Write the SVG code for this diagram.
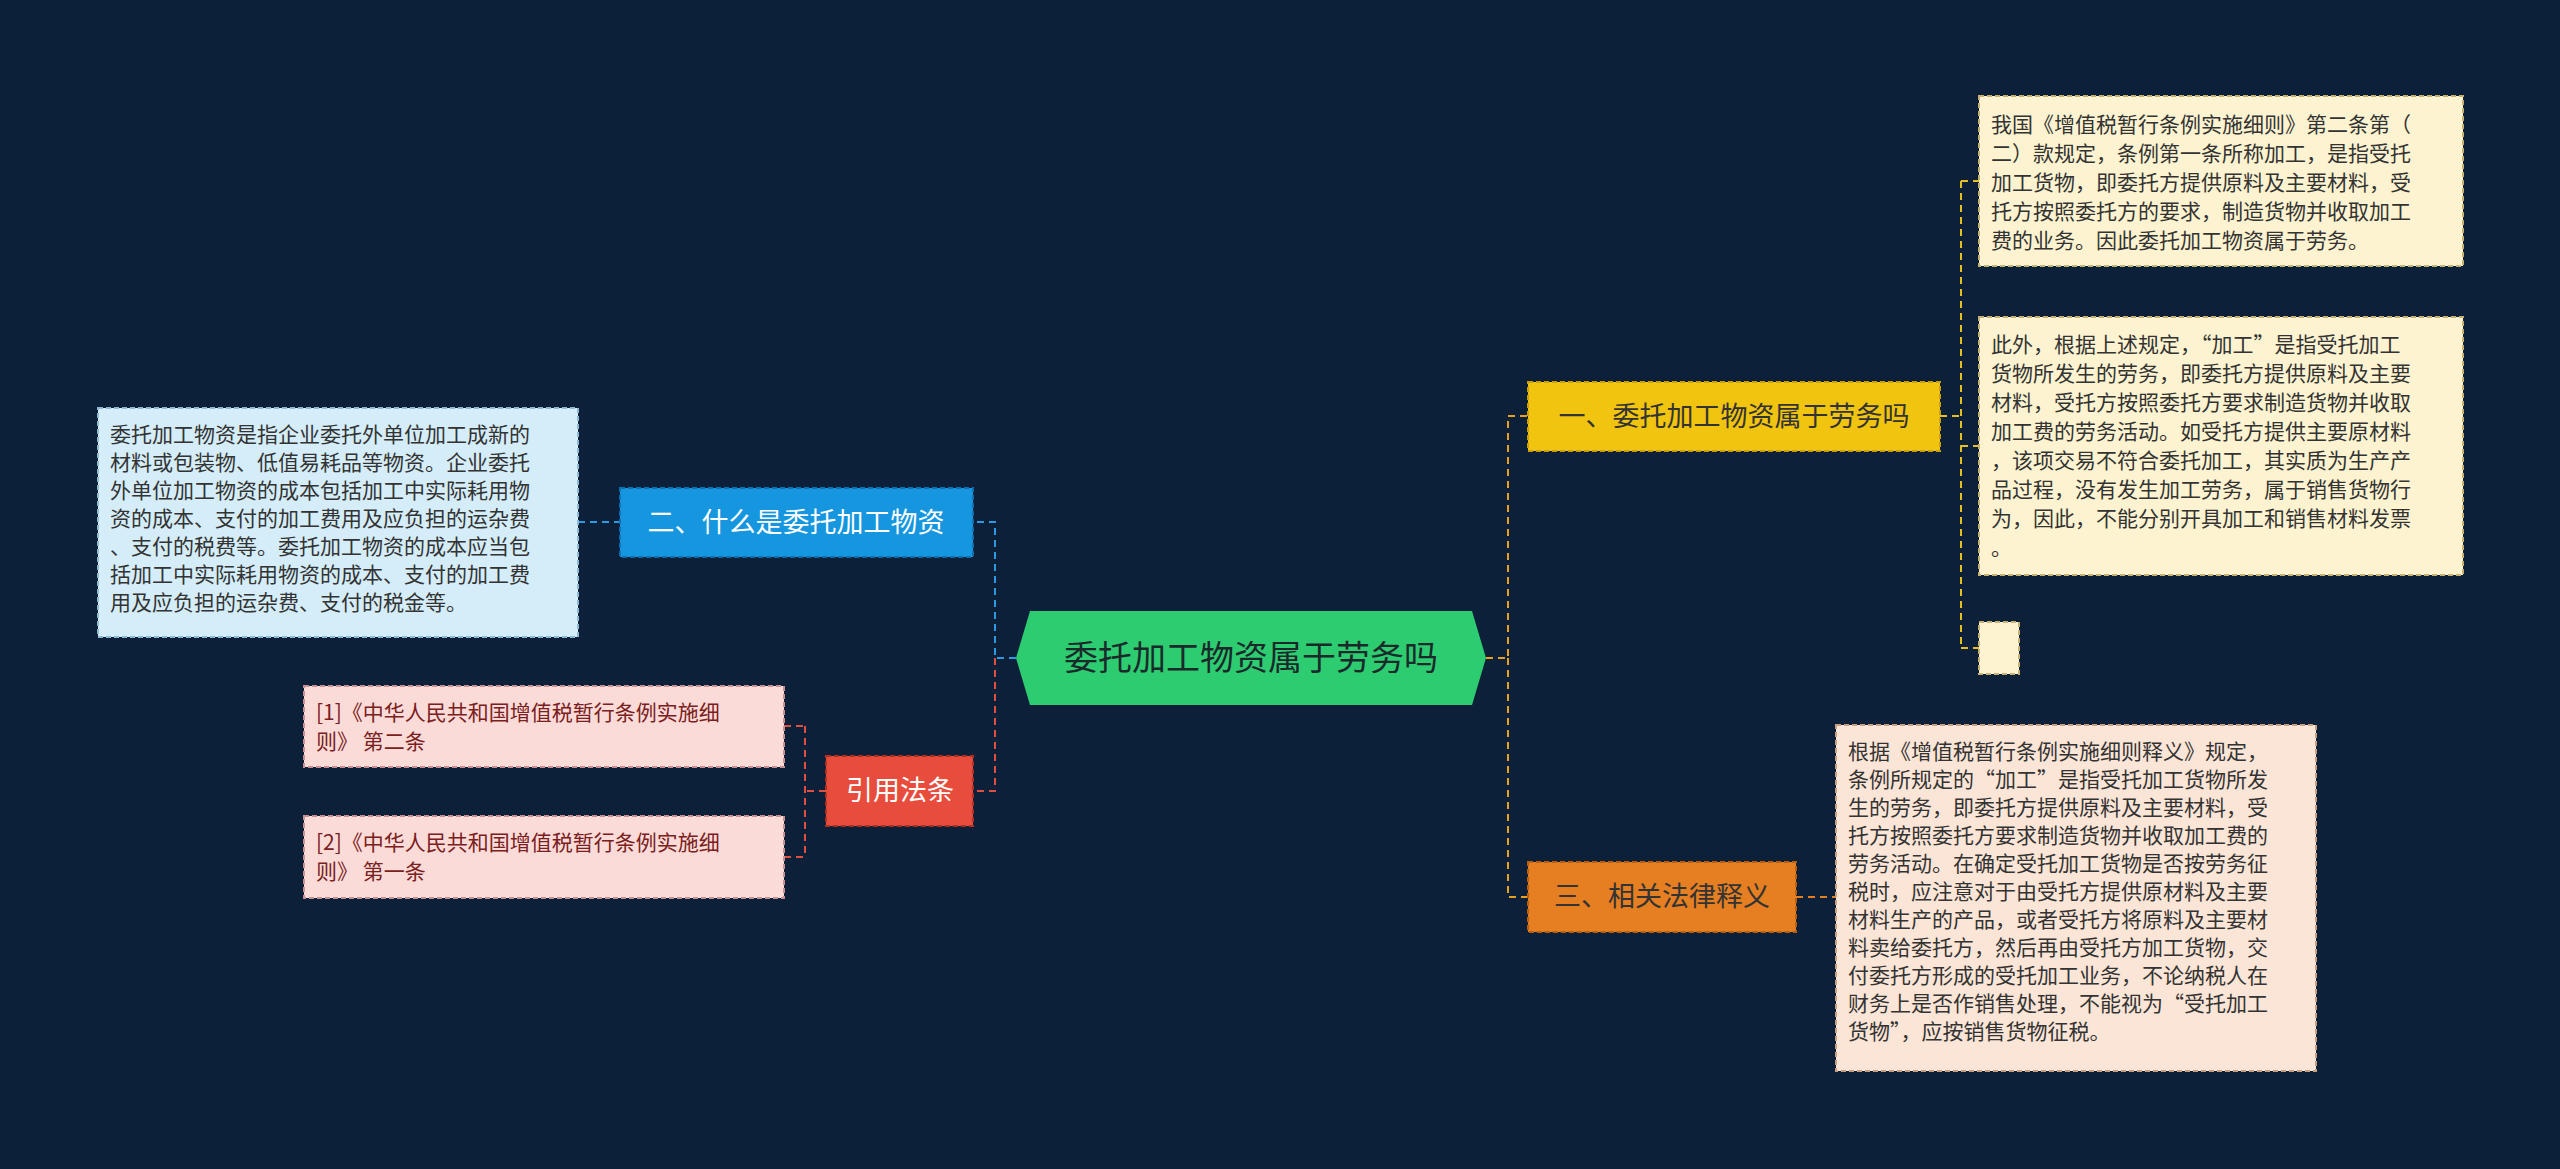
<svg xmlns="http://www.w3.org/2000/svg" width="2560" height="1169" viewBox="0 0 2560 1169">
<style>
text{font-family:"Noto Sans CJK SC","Liberation Sans",sans-serif}
.leaf{font-size:21px}
.c{fill:none;stroke-width:2;stroke-dasharray:7 5}
.b{stroke-width:2;stroke-dasharray:5 3}
</style>
<rect width="2560" height="1169" fill="#0c2039"/>
<g id="connectors">
<path class="c" stroke="#e8a020" d="M1486 658H1508V416H1528M1508 658V897H1528"/>
<path class="c" stroke="#e6c020" d="M1940 416H1961M1961 181V648M1961 181H1979M1961 446H1979M1961 648H1979"/>
<path class="c" stroke="#e67e22" d="M1796 897H1836"/>
<path class="c" stroke="#2a9be0" d="M1016 658H995V522H973M578 522H620"/>
<path class="c" stroke="#e05040" d="M995 658V791H973M826 791H805M805 726V857M784 726H805M784 857H805"/>
</g>
<g id="center">
<polygon points="1030,611 1472,611 1486,658 1472,705 1030,705 1016,658" fill="#2ecc71"/>
<text x="1251" y="670" font-size="34" text-anchor="middle" fill="#1a2a2a">委托加工物资属于劳务吗</text>
</g>
<g id="b1">
<rect class="b" x="1528" y="382" width="412" height="69" fill="#f1c40f" stroke="#c9a00a"/>
<text x="1734" y="426" font-size="27" text-anchor="middle" fill="#333">一、委托加工物资属于劳务吗</text>
</g>
<g id="l1">
<rect class="b" x="1979" y="96" width="484" height="170" fill="#fdf3d0" stroke="#c8b070"/>
<text class="leaf" fill="#333"><tspan x="1991" y="132">我国《增值税暂行条例实施细则》第二条第（</tspan><tspan x="1991" y="161">二）款规定，条例第一条所称加工，是指受托</tspan><tspan x="1991" y="190">加工货物，即委托方提供原料及主要材料，受</tspan><tspan x="1991" y="219">托方按照委托方的要求，制造货物并收取加工</tspan><tspan x="1991" y="248">费的业务。因此委托加工物资属于劳务。</tspan></text>
</g>
<g id="l2">
<rect class="b" x="1979" y="317" width="484" height="258" fill="#fdf3d0" stroke="#c8b070"/>
<text class="leaf" fill="#333"><tspan x="1991" y="352">此外，根据上述规定，“加工”是指受托加工</tspan><tspan x="1991" y="381">货物所发生的劳务，即委托方提供原料及主要</tspan><tspan x="1991" y="410">材料，受托方按照委托方要求制造货物并收取</tspan><tspan x="1991" y="439">加工费的劳务活动。如受托方提供主要原材料</tspan><tspan x="1991" y="468">，该项交易不符合委托加工，其实质为生产产</tspan><tspan x="1991" y="497">品过程，没有发生加工劳务，属于销售货物行</tspan><tspan x="1991" y="526">为，因此，不能分别开具加工和销售材料发票</tspan><tspan x="1991" y="555">。</tspan></text>
</g>
<g id="l3">
<rect class="b" x="1979" y="622" width="40" height="52" fill="#fdf3d0" stroke="#c8b070"/>
</g>
<g id="b3">
<rect class="b" x="1528" y="862" width="268" height="70" fill="#e67e22" stroke="#b85f10"/>
<text x="1662" y="906" font-size="27" text-anchor="middle" fill="#333">三、相关法律释义</text>
</g>
<g id="l4">
<rect class="b" x="1836" y="725" width="480" height="346" fill="#fbe5d6" stroke="#c8a080"/>
<text class="leaf" fill="#333"><tspan x="1848" y="759">根据《增值税暂行条例实施细则释义》规定，</tspan><tspan x="1848" y="787">条例所规定的“加工”是指受托加工货物所发</tspan><tspan x="1848" y="815">生的劳务，即委托方提供原料及主要材料，受</tspan><tspan x="1848" y="843">托方按照委托方要求制造货物并收取加工费的</tspan><tspan x="1848" y="871">劳务活动。在确定受托加工货物是否按劳务征</tspan><tspan x="1848" y="899">税时，应注意对于由受托方提供原材料及主要</tspan><tspan x="1848" y="927">材料生产的产品，或者受托方将原料及主要材</tspan><tspan x="1848" y="955">料卖给委托方，然后再由受托方加工货物，交</tspan><tspan x="1848" y="983">付委托方形成的受托加工业务，不论纳税人在</tspan><tspan x="1848" y="1011">财务上是否作销售处理，不能视为“受托加工</tspan><tspan x="1848" y="1039">货物”，应按销售货物征税。</tspan></text>
</g>
<g id="b2">
<rect class="b" x="620" y="488" width="353" height="69" fill="#1696de" stroke="#0d6fb0"/>
<text x="796" y="532" font-size="27" text-anchor="middle" fill="#fff">二、什么是委托加工物资</text>
</g>
<g id="l5">
<rect class="b" x="98" y="408" width="480" height="229" fill="#d4edf9" stroke="#90b8d0"/>
<text class="leaf" fill="#333"><tspan x="110" y="442">委托加工物资是指企业委托外单位加工成新的</tspan><tspan x="110" y="470">材料或包装物、低值易耗品等物资。企业委托</tspan><tspan x="110" y="498">外单位加工物资的成本包括加工中实际耗用物</tspan><tspan x="110" y="526">资的成本、支付的加工费用及应负担的运杂费</tspan><tspan x="110" y="554">、支付的税费等。委托加工物资的成本应当包</tspan><tspan x="110" y="582">括加工中实际耗用物资的成本、支付的加工费</tspan><tspan x="110" y="610">用及应负担的运杂费、支付的税金等。</tspan></text>
</g>
<g id="b4">
<rect class="b" x="826" y="756" width="147" height="70" fill="#e74c3c" stroke="#b03020"/>
<text x="900" y="800" font-size="27" text-anchor="middle" fill="#fff">引用法条</text>
</g>
<g id="l6">
<rect class="b" x="304" y="686" width="480" height="81" fill="#fadbd8" stroke="#c89090"/>
<text class="leaf" fill="#7a2020"><tspan x="316" y="720">[1]《中华人民共和国增值税暂行条例实施细</tspan><tspan x="316" y="749">则》 第二条</tspan></text>
</g>
<g id="l7">
<rect class="b" x="304" y="816" width="480" height="82" fill="#fadbd8" stroke="#c89090"/>
<text class="leaf" fill="#7a2020"><tspan x="316" y="850">[2]《中华人民共和国增值税暂行条例实施细</tspan><tspan x="316" y="879">则》 第一条</tspan></text>
</g>
</svg>
